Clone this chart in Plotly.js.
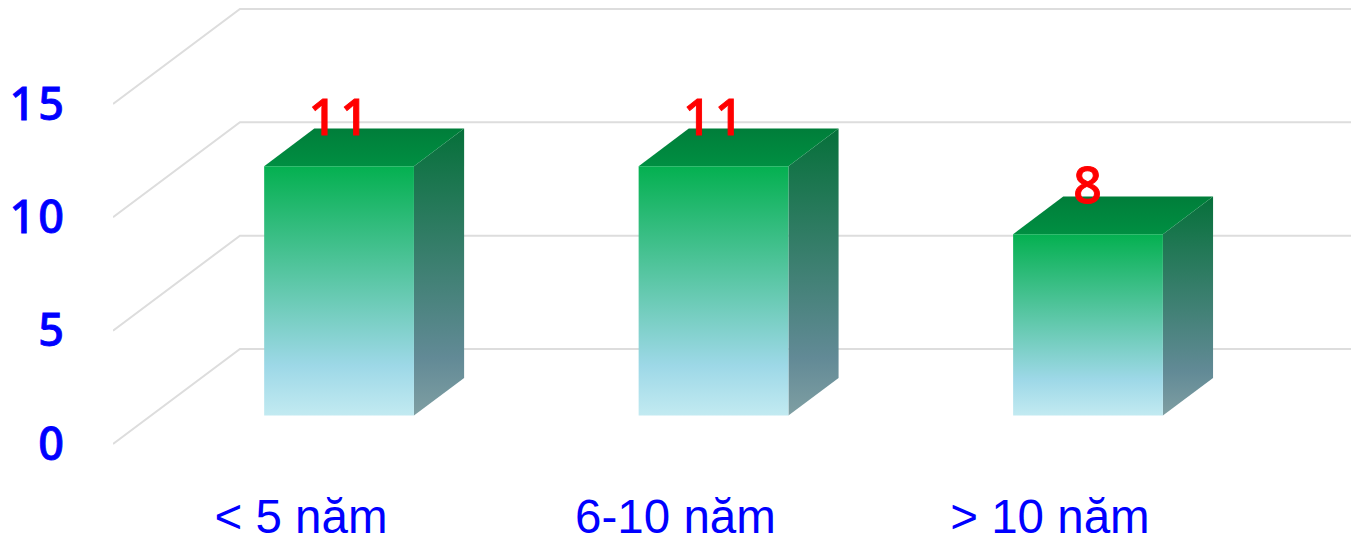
<!DOCTYPE html>
<html>
<head>
<meta charset="utf-8">
<script src="https://cdn.plot.ly/plotly-3.0.1.min.js"></script>
<style>
html,body{margin:0;padding:0;background:#fff;overflow:hidden}
#chart{width:1351px;height:537px}
#chart .ytick text{letter-spacing:3px;stroke:#0000FF;stroke-width:0.8px}
#chart .textpoint text{letter-spacing:3px;stroke:#FF0000;stroke-width:0.9px}
</style>
</head>
<body>
<div id="chart"></div>
<script>
// Data
const categories = ['< 5 năm', '6-10 năm', '> 10 năm'];
const values = [11, 11, 8];
const yTicks = [0, 5, 10, 15];

// Oblique projection: depth 0 is the front of the floor, depth 1 is the back wall
const xPerDepth = 0.339;
const yPerDepth = 4.19;
const barHalfWidth = 0.2;
const barFrontDepth = 0.3;
const barBackDepth = 0.695;
const labelLift = 1.92;
const xMin = -0.502, xMax = 2.804, yMin = -1.147, yMax = 19.585;

function pt(cat, v, depth) { return [cat + depth * xPerDepth, v + depth * yPerDepth]; }
function poly(points, colors, start, stop) {
  const t = {
    x: [], y: [], type: 'scatter', mode: 'none', fill: 'toself', hoverinfo: 'skip', showlegend: false,
    fillgradient: { type: 'vertical', colorscale: colors, start: start, stop: stop }
  };
  points.concat([points[0]]).forEach(p => { t.x.push(p[0]); t.y.push(p[1]); });
  return t;
}

const traces = [];
// Grid: floor-to-wall diagonals and back wall lines
yTicks.forEach(v => {
  traces.push({
    x: [xMin, xMin + xPerDepth, xMax],
    y: [v, v + yPerDepth, v + yPerDepth],
    type: 'scatter', mode: 'lines', hoverinfo: 'skip', showlegend: false,
    line: { color: '#DDDDDD', width: 2 }
  });
});

const frontColors = [[0, '#C2EAF1'], [0.2, '#9DD8E7'], [1, '#04B050']];
const sideColors = [[0, '#7F9FA3'], [0.2, '#628A96'], [1, '#06703A']];

values.forEach((v, c) => {
  const L = c - barHalfWidth, R = c + barHalfWidth;
  const f = barFrontDepth, b = barBackDepth;
  const frontBase = pt(L, 0, f)[1], frontTop = pt(L, v, f)[1];
  const backTop = pt(L, v, b)[1];
  // side face
  traces.push(poly([pt(R, 0, f), pt(R, 0, b), pt(R, v, b), pt(R, v, f)], sideColors, frontBase, backTop));
  // top face
  traces.push(poly([pt(L, v, f), pt(R, v, f), pt(R, v, b), pt(L, v, b)],
    [[0, '#008F42'], [1, '#007E3A']], frontTop, backTop));
  // front face
  traces.push(poly([pt(L, 0, f), pt(R, 0, f), pt(R, v, f), pt(L, v, f)], frontColors, frontBase, frontTop));
});

// Value labels
traces.push({
  x: values.map((v, c) => pt(c + 0.003, v + labelLift, barFrontDepth)[0]),
  y: values.map((v, c) => pt(c, v + labelLift, barFrontDepth)[1]),
  text: values.map(String),
  type: 'scatter', mode: 'text', textposition: 'middle center', hoverinfo: 'skip', showlegend: false,
  textfont: { family: '"Noto Sans", sans-serif', size: 50, weight: 500, color: '#FF0000' }
});

const layout = {
  width: 1351, height: 537,
  margin: { l: 113, r: 0, t: 0, b: 67, pad: 0 },
  paper_bgcolor: '#FFFFFF', plot_bgcolor: '#FFFFFF',
  showlegend: false,
  xaxis: {
    range: [xMin, xMax], tickmode: 'array', tickvals: categories.map((_, i) => i), ticktext: categories,
    showgrid: false, zeroline: false, showline: false, ticks: '', automargin: false, tickangle: 0,
    tickfont: { family: '"Liberation Sans", Arial, sans-serif', size: 47.5, color: '#0000FF' },
    ticklabelstandoff: 14
  },
  yaxis: {
    range: [yMin, yMax], tickmode: 'array', tickvals: yTicks, ticktext: yTicks.map(String),
    showgrid: false, zeroline: false, showline: false, ticks: '', automargin: false,
    tickfont: { family: '"Noto Sans", sans-serif', size: 45, weight: 500, color: '#0000FF' },
    ticklabelstandoff: 45
  }
};
Plotly.newPlot('chart', traces, layout, { staticPlot: true, displayModeBar: false });
</script>
</body>
</html>
